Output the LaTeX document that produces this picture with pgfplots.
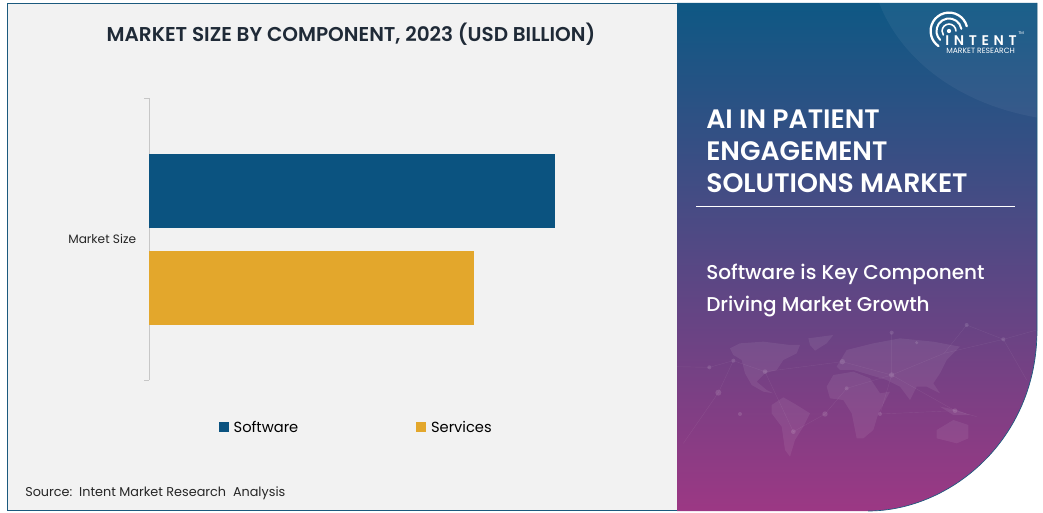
\documentclass[border=0pt]{standalone}
\usepackage{fontspec}
\usepackage{pgfplots}
\pgfplotsset{compat=1.18}
\setmainfont{Poppins}
\newfontfamily\popmed{Poppins Medium}
\newfontfamily\popsemi{Poppins SemiBold}
\definecolor{navy}{HTML}{0B5380}
\definecolor{gold}{HTML}{E3A72C}
\definecolor{panel}{HTML}{F2F2F2}
\definecolor{edge}{HTML}{1B5A7E}
\definecolor{ink}{HTML}{1F2A37}
\definecolor{txt}{HTML}{262626}
\newcommand{\fs}[1]{\fontsize{#1}{#1}\selectfont}
\begin{document}
\begin{tikzpicture}
\begin{scope}[x=0.75pt,y=-0.75pt]
\path[use as bounding box,fill=white] (0,0) rectangle (1043,513);
% left panel
\fill[panel] (7,3) rectangle (677,511);
\draw[edge,line width=0.9pt] (677,3.5) -- (7.5,3.5) -- (7.5,510.5) -- (870,510.5);
% right panel
\def\rpanel{(677,3) -- (1037,3) -- (1037,330) .. controls (1037,440) and (950,511) .. (868,511) -- (677,511) -- cycle}
\begin{scope}
\clip \rpanel;
\shade[top color={rgb,255:red,14;green,88;blue,132},middle color={rgb,255:red,72;green,72;blue,128},bottom color={rgb,255:red,156;green,56;blue,132}] (677,3) rectangle (1040,511);
% lighter sweep at top right
\fill[white,fill opacity=0.05] (878,0) .. controls (900,60) and (960,105) .. (1040,118) -- (1040,0) -- cycle;
% world map drawn in zoom coordinates
\begin{scope}[shift={(640,310)},x=0.25pt,y=-0.25pt]
\fill[white,fill opacity=0.07] (270,115) -- (300,100) -- (370,95) -- (450,105) -- (480,105) -- (470,130) -- (430,150) -- (410,180) -- (375,190) -- (350,215) -- (380,240) -- (400,250) -- (370,245) -- (335,225) -- (315,190) -- (305,150) -- (280,135) -- cycle;
\fill[white,fill opacity=0.07] (505,85) -- (580,75) -- (560,100) -- (525,122) -- (510,105) -- cycle;
\fill[white,fill opacity=0.07] (395,285) -- (430,262) -- (470,285) -- (510,310) -- (490,350) -- (465,390) -- (450,440) -- (435,420) -- (425,350) -- (395,310) -- cycle;
\fill[white,fill opacity=0.07] (560,230) -- (580,195) -- (640,185) -- (690,205) -- (720,250) -- (750,245) -- (715,310) -- (700,360) -- (670,385) -- (650,385) -- (635,310) -- (610,270) -- (570,265) -- cycle;
\fill[white,fill opacity=0.07] (590,170) -- (620,120) -- (700,100) -- (780,85) -- (880,95) -- (960,110) -- (920,150) -- (900,190) -- (880,220) -- (900,250) -- (860,230) -- (830,230) -- (810,270) -- (780,230) -- (740,210) -- (690,195) -- (640,180) -- (600,180) -- cycle;
\fill[white,fill opacity=0.07] (890,360) -- (940,330) -- (985,345) -- (985,385) -- (950,400) -- (890,385) -- cycle;
\fill[white,fill opacity=0.07] (900,290) -- (950,300) -- (990,315) -- (940,315) -- cycle;
\draw[white,opacity=0.07,line width=0.3pt] (110,170) -- (208,172) -- (280,152) -- (375,185) -- (607,155) -- (755,195) -- (912,130) -- (1090,88) -- (1190,60)
 (235,248) -- (280,152) (235,248) -- (130,400) (300,312) -- (555,312) -- (620,235) -- (755,195) (555,312) -- (460,365) -- (375,185)
 (720,312) -- (945,302) -- (1010,320) (720,312) -- (755,195) -- (945,302) (755,68) -- (755,195) (912,130) -- (980,45) -- (1090,88) (1090,88) -- (1160,210);
\foreach \a/\b/\r in {235/248/9,208/172/6,280/152/6,300/312/6,555/312/8,460/365/7,620/235/6,755/195/8,720/312/6,945/302/7,1090/88/6,980/45/6,755/68/6,607/155/8,375/185/7,830/98/5}
  \fill[white,fill opacity=0.12] (\a,\b) circle[radius=\r*0.25pt];
\end{scope}
\end{scope}
\draw[edge,line width=0.5pt] (1037,3) -- (1037,330) .. controls (1037,440) and (950,511) .. (868,511);
% logo
\begin{scope}[white,line cap=round]
\draw[line width=1.7pt] ([shift={(15:13.8pt)}]949,31) arc[start angle=15,end angle=235,radius=13.8pt];
\draw[line width=1.5pt] ([shift={(10:9.4pt)}]949,31) arc[start angle=10,end angle=225,radius=9.4pt];
\draw[line width=1.2pt] ([shift={(0:5.2pt)}]949,31) arc[start angle=0,end angle=215,radius=5.2pt];
\fill (949,31) circle[radius=1.6pt];
\end{scope}
\node[anchor=base west,inner sep=0pt,text=white] at (945,45.5) {\popsemi\fs{10.5}I\,\,N\,\,T\,\,E\,\,N\,\,T};
\node[anchor=base west,inner sep=0pt,text=white] at (1018,35) {\fs{3}TM};
\node[anchor=base west,inner sep=0pt,text=white] at (946,53.5) {\fs{5.7}MARKET RESEARCH};
% right panel texts
\node[anchor=base west,inner sep=0pt,text=white] at (706,129) {\popsemi\fs{20}AI IN PATIENT};
\node[anchor=base west,inner sep=0pt,text=white] at (706,161) {\popsemi\fs{20}ENGAGEMENT};
\node[anchor=base west,inner sep=0pt,text=white] at (706,193) {\popsemi\fs{20}SOLUTIONS MARKET};
\draw[white,line width=0.6pt] (696,206.5) -- (1015,206.5);
\node[anchor=base west,inner sep=0pt,text=white] at (706,280) {\popmed\fs{15}Software is Key Component};
\node[anchor=base west,inner sep=0pt,text=white] at (706,312) {\popmed\fs{15}Driving Market Growth};
% chart title and source
\node[anchor=base,inner sep=0pt,text=ink] at (351,42) {\popsemi\fs{15}MARKET SIZE BY COMPONENT, 2023 (USD BILLION)};
\node[anchor=base west,inner sep=0pt,text=txt] at (25,496) {\fs{9.6}Source:\ \ Intent Market Research\ \ Analysis};
\end{scope}
% chart
\begin{axis}[
  at={(111.75pt,-285pt)},anchor=south west,
  scale only axis,width=375pt,height=211.5pt,
  xmin=0,xmax=5,ymin=-0.5,ymax=0.5,
  axis x line=none,
  axis y line*=left,
  axis line style={draw=black!22,line width=0.5pt,-},
  ytick={-0.5,0.5},yticklabels={},
  major tick length=3.6pt,
  tick style={draw=black!22,line width=0.4pt},
  extra y ticks={0},extra y tick labels={Market Size},
  extra y tick style={major tick length=0pt,
    yticklabel style={font=\fs{9.1},text=txt,inner sep=0pt,xshift=-9.5pt}},
  xbar,bar width=55.5pt,
  clip=false,
  legend columns=2,
  legend style={draw=none,fill=none,at={(axis cs:0,-0.5)},anchor=north west,xshift=52pt,yshift=-28.5pt,font=\fs{11},inner sep=0pt,
    /tikz/every odd column/.append style={column sep=1.8pt},
    /tikz/every even column/.append style={column sep=86.25pt}},
  legend image code/.code={\fill[#1] (0pt,-3.7pt) rectangle (7.5pt,3.8pt);},
]
\addplot[draw=none,fill=navy,bar shift=35.7pt] coordinates {(4.06,0)};
\addlegendentry{Software}
\addplot[draw=none,fill=gold,bar shift=-36.4pt] coordinates {(3.25,0)};
\addlegendentry{Services}
\end{axis}
\end{tikzpicture}
\end{document}
